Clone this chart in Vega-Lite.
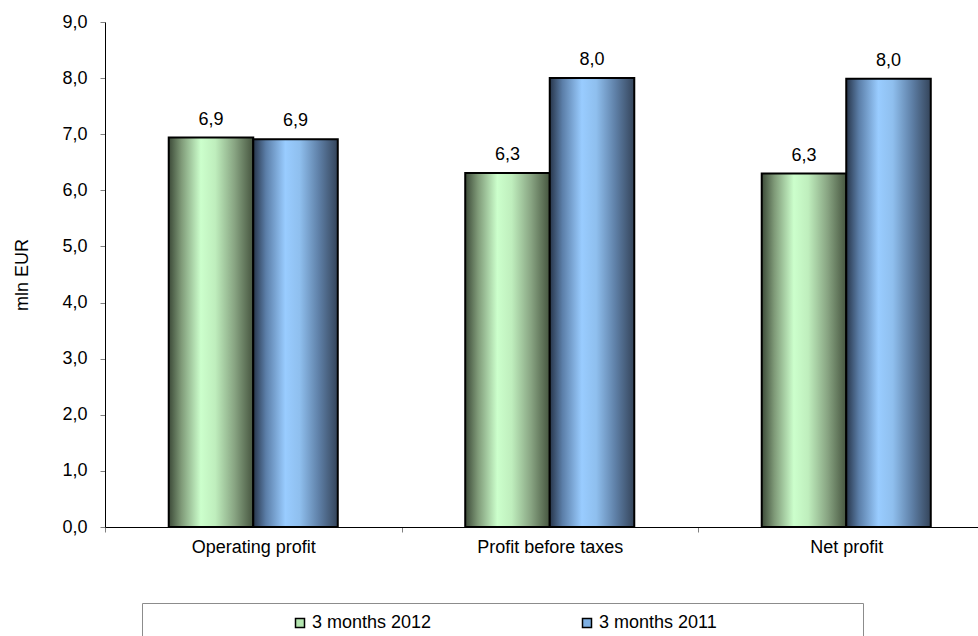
{
  "$schema": "https://vega.github.io/schema/vega-lite/v6.json",
  "width": 873,
  "height": 505,
  "autosize": {"type": "none"},
  "padding": {"left": 105, "top": 22, "right": 0, "bottom": 109},
  "background": "white",
  "config": {
    "font": "Liberation Sans",
    "view": {"stroke": null},
    "locale": {"number": {"decimal": ",", "thousands": ".", "grouping": [3], "currency": ["", ""]}},
    "axis": {"labelColor": "#000", "labelFontSize": 18, "titleFontSize": 18, "titleFontWeight": "normal", "titleColor": "#000", "domainColor": "#000", "domainWidth": 1, "tickColor": "#808080", "tickSize": 5, "grid": false}
  },
  "data": {
    "values": [
      {"measure": "Operating profit", "series": "3 months 2012", "value": 6.94},
      {"measure": "Operating profit", "series": "3 months 2011", "value": 6.91},
      {"measure": "Profit before taxes", "series": "3 months 2012", "value": 6.31},
      {"measure": "Profit before taxes", "series": "3 months 2011", "value": 8.0},
      {"measure": "Net profit", "series": "3 months 2012", "value": 6.3},
      {"measure": "Net profit", "series": "3 months 2011", "value": 7.99}
    ]
  },
  "encoding": {
    "x": {
      "field": "measure", "type": "nominal",
      "sort": ["Operating profit", "Profit before taxes", "Net profit"],
      "scale": {"range": [0, 889.5], "paddingInner": 0, "paddingOuter": 0},
      "axis": {"title": null, "labelAngle": 0, "tickBand": "extent", "labelPadding": 6}
    },
    "xOffset": {
      "field": "series", "type": "nominal",
      "sort": ["3 months 2012", "3 months 2011"],
      "scale": {"paddingInner": 0, "paddingOuter": 0.754}
    },
    "y": {
      "field": "value", "type": "quantitative",
      "scale": {"domain": [0, 9], "nice": false},
      "axis": {"title": "mln EUR", "values": [0, 1, 2, 3, 4, 5, 6, 7, 8, 9], "format": ".1f", "labelPadding": 13, "titlePadding": 30}
    }
  },
  "layer": [
    {
      "mark": {"type": "bar"},
      "encoding": {
        "color": {
          "field": "series", "type": "nominal",
          "scale": {"domain": ["3 months 2012", "3 months 2011"], "range": ["#b4e6b0", "#7eb0e4"]},
          "legend": {
            "orient": "none", "legendX": 37, "legendY": 581, "direction": "horizontal",
            "title": "\u200b\u00a0\u00a0\u00a0\u00a0\u00a0\u00a0\u00a0\u00a0\u00a0\u00a0\u00a0\u00a0\u00a0\u00a0\u00a0\u00a0\u00a0\u00a0\u00a0\u00a0\u00a0\u00a0\u00a0\u00a0\u00a0\u00a0\u00a0\u00a0\u00a0\u00a0\u00a0\u00a0\u00a0\u00a0\u00a0\u00a0\u00a0\u00a0\u00a0\u00a0\u00a0\u00a0\u00a0\u00a0\u00a0\u00a0\u00a0\u00a0\u200b",
            "titleOrient": "left", "titleFontSize": 10, "titlePadding": 4,
            "padding": 11, "strokeColor": "#8c8c8c", "fillColor": "white",
            "columnPadding": 146, "labelFontSize": 18, "labelColor": "#000", "labelOffset": 3, "labelLimit": 600,
            "symbolType": "square", "symbolSize": 81, "symbolStrokeColor": "#000", "symbolStrokeWidth": 1.5,
            "labelExpr": "datum.label == '3 months 2011' ? datum.label + '\u00a0\u00a0\u00a0\u00a0\u00a0\u00a0\u00a0\u00a0\u00a0\u00a0\u00a0\u00a0\u00a0\u00a0\u00a0\u00a0\u00a0\u00a0\u00a0\u00a0\u00a0\u00a0\u00a0\u00a0\u00a0\u00a0\u00a0\u200b' : datum.label"
          }
        }
      }
    },
    {
      "transform": [{"filter": "datum.series == '3 months 2012'"}],
      "mark": {
        "type": "bar", "stroke": "#000", "strokeWidth": 2,
        "fill": {"gradient": "linear", "x1": 0, "x2": 1, "y1": 0, "y2": 0, "stops": [
          {"offset": 0, "color": "#3c4a38"},
          {"offset": 0.15, "color": "#7f9a78"},
          {"offset": 0.38, "color": "#ccffcc"},
          {"offset": 0.55, "color": "#bfeebd"},
          {"offset": 0.78, "color": "#88a482"},
          {"offset": 1, "color": "#46553f"}
        ]}
      }
    },
    {
      "transform": [{"filter": "datum.series == '3 months 2011'"}],
      "mark": {
        "type": "bar", "stroke": "#000", "strokeWidth": 2,
        "fill": {"gradient": "linear", "x1": 0, "x2": 1, "y1": 0, "y2": 0, "stops": [
          {"offset": 0, "color": "#27354a"},
          {"offset": 0.15, "color": "#5b7ea8"},
          {"offset": 0.38, "color": "#99ccff"},
          {"offset": 0.55, "color": "#8fbfee"},
          {"offset": 0.78, "color": "#5e7fa6"},
          {"offset": 1, "color": "#34445a"}
        ]}
      }
    },
    {
      "mark": {"type": "text", "dy": -13, "baseline": "alphabetic", "fontSize": 18, "color": "#000"},
      "encoding": {"text": {"field": "value", "type": "quantitative", "format": ".1f"}}
    }
  ]
}
